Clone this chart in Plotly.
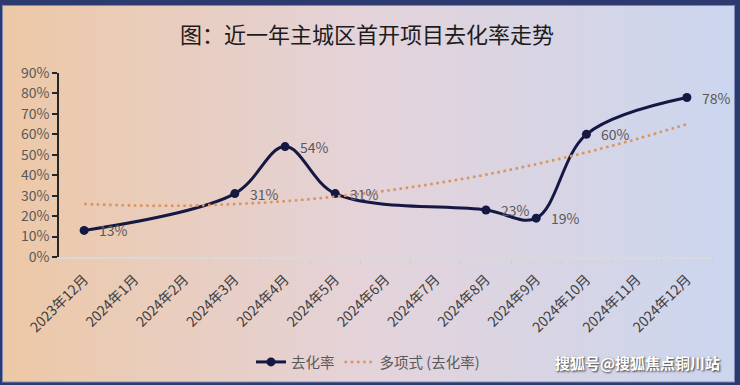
import base64
import plotly.graph_objects as go

# ---- data ----
categories = ["2023年12月", "2024年1月", "2024年2月", "2024年3月", "2024年4月", "2024年5月",
              "2024年6月", "2024年7月", "2024年8月", "2024年9月", "2024年10月", "2024年11月", "2024年12月"]
point_months = ["2023年12月", "2024年3月", "2024年4月", "2024年5月", "2024年8月", "2024年9月", "2024年10月", "2024年12月"]
rate_values = [13, 31, 54, 31, 23, 19, 60, 78]
trend_values = [25.9, 25.2, 25.1, 25.9, 27.3, 29.5, 32.4, 36.0, 40.3, 45.4, 51.2, 57.7, 65.0]
y_ticks = [0, 10, 20, 30, 40, 50, 60, 70, 80, 90]

W, H = 740, 385
L, R, T, B = 59, 28, 73, 128
pw, ph = W - L - R, H - T - B

FONT = "Noto Sans CJK SC"
NAVY = "#141843"
TREND = "#d8955f"

svg = f"""<svg xmlns='http://www.w3.org/2000/svg' width='{W}' height='{H}' viewBox='0 0 {W} {H}'>
<defs><linearGradient id='g' x1='0' x2='1' y1='0' y2='0'>
<stop offset='0' stop-color='#edc8a6'/><stop offset='0.5' stop-color='#e4d3da'/><stop offset='1' stop-color='#cbd6ef'/>
</linearGradient></defs>
<rect width='{W}' height='{H}' fill='#2d3a70'/>
<rect x='2.5' y='5.5' width='732' height='376.5' fill='url(#g)' stroke='#8088b8' stroke-width='1'/>
</svg>"""
bg_uri = "data:image/svg+xml;base64," + base64.b64encode(svg.encode("utf-8")).decode("ascii")

fig = go.Figure()
fig.add_trace(go.Scatter(
    x=point_months, y=rate_values, name="去化率", mode="lines+markers",
    line=dict(color=NAVY, width=3, shape="spline", smoothing=1),
    marker=dict(color=NAVY, size=9),
    hoverinfo="skip",
))
fig.add_trace(go.Scatter(
    x=categories, y=trend_values, name="多项式 (去化率)", mode="lines",
    line=dict(color=TREND, width=2.6, dash="2.6px,3.6px", shape="spline"),
    hoverinfo="skip",
))

for m, v in zip(point_months, rate_values):
    fig.add_annotation(x=m, y=v, text=f"{v}%", showarrow=False, xanchor="left", yanchor="middle",
                       xshift=13, font=dict(family=FONT, size=14, color="#595959"))

fig.add_annotation(xref="paper", yref="paper", x=(722 - L) / pw, y=(T + ph - 362) / ph,
                   xanchor="right", yanchor="middle", showarrow=False,
                   text="搜狐号@搜狐焦点铜川站",
                   font=dict(family=FONT, size=15, color="white", weight="bold", shadow="1px 1px 2px #333"))

fig.add_layout_image(dict(source=bg_uri, xref="paper", yref="paper", x=-L / pw, y=1 + T / ph,
                          sizex=W / pw, sizey=H / ph, sizing="stretch", layer="below",
                          xanchor="left", yanchor="top"))

fig.update_layout(
    width=W, height=H, margin=dict(l=L, r=R, t=T, b=B, autoexpand=False),
    paper_bgcolor="rgba(0,0,0,0)", plot_bgcolor="rgba(0,0,0,0)",
    font=dict(family=FONT),
    title=dict(text="图：近一年主城区首开项目去化率走势", xref="container", yref="container",
               x=367 / W, y=1 - 35 / H, xanchor="center", yanchor="middle",
               font=dict(family=FONT, size=22, color="#1c1c1c")),
    showlegend=True,
    legend=dict(orientation="h", x=(368 - L) / pw, xanchor="center", y=(T + ph - 362) / ph, yanchor="middle",
                font=dict(family=FONT, size=14.5, color="#595959"), bgcolor="rgba(0,0,0,0)",
                itemwidth=30),
    xaxis=dict(type="category", categoryorder="array", categoryarray=categories,
               range=[-0.5, len(categories) - 0.5], tickson="boundaries", automargin=False,
               ticks="outside", ticklen=5, tickcolor="#d0d0d0", tickwidth=1,
               showline=True, linecolor="#d9d9d9", linewidth=1.5, showgrid=False, zeroline=False,
               tickangle=-45, ticklabelstandoff=7,
               tickfont=dict(family=FONT, size=14, color="#404040")),
    yaxis=dict(range=[0, 90], tickvals=y_ticks, ticktext=[f"{t}%" for t in y_ticks], automargin=False,
               ticks="outside", ticklen=5, tickcolor="#262626", tickwidth=1.5,
               showline=True, linecolor="#262626", linewidth=1.5, showgrid=False, zeroline=False,
               tickfont=dict(family=FONT, size=14, color="#595959")),
)

fig.write_html("out.html", config={"displayModeBar": False},
               post_script="document.body.style.margin='0';document.body.style.overflow='hidden';")
